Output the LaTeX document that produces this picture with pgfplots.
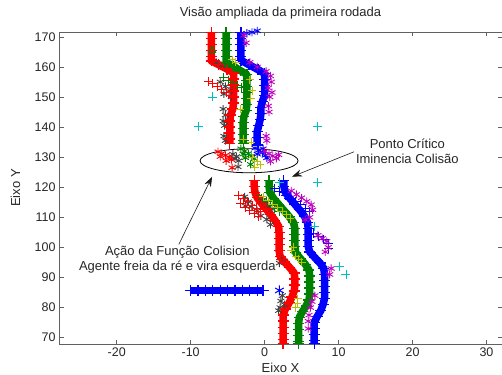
\documentclass[border=0pt]{standalone}
\usepackage{pgfplots}
\pgfplotsset{compat=1.18}
\usepackage{fontspec}
\setmainfont{Liberation Sans}
\usetikzlibrary{arrows.meta}
\definecolor{mred}{rgb}{1,0,0}
\definecolor{mgreen}{rgb}{0,0.5,0}
\definecolor{mblue}{rgb}{0,0,1}
\definecolor{mcyan}{rgb}{0,0.75,0.75}
\definecolor{mmag}{rgb}{0.75,0,0.75}
\definecolor{myel}{rgb}{0.75,0.75,0}
\definecolor{mgray}{rgb}{0.25,0.25,0.25}
\definecolor{axgray}{rgb}{0.38,0.38,0.38}
\newcommand\tickfont{\fontsize{12.5}{15}\selectfont}
\newcommand\anfont{\fontsize{13}{15}\selectfont}
\pgfplotsset{
  band/.style={line width=7.5pt, line join=round, mark=+, mark size=5.5pt, mark options={line width=1.3pt, solid}},
  pl/.style={only marks, mark=+, mark size=4.5pt, mark options={line width=1pt}},
  st/.style={only marks, mark=asterisk, mark size=4pt, mark options={line width=0.9pt}},
}
\begin{document}
\begin{tikzpicture}
\begin{axis}[name=ax, width=443pt, height=312pt, scale only axis,
  xmin=-27.8, xmax=32.1, ymin=67.9, ymax=171.6,
  xtick={-20,-10,...,30}, ytick={70,80,...,170},
  tick align=inside, major tick length=4.5pt,
  axis line style={color=axgray, line width=0.7pt},
  tick style={color=axgray, line width=0.6pt},
  clip=false,
  every tick label/.append style={font=\tickfont, text=black!85},
  /pgf/number format/assume math mode=true,
  title={Visão ampliada da primeira rodada},
  title style={font=\anfont, text=black!85, at={(axis description cs:0.5,1)}, anchor=base, yshift=9.5pt},
  xlabel={Eixo X},
  xlabel style={font=\anfont, text=black!85, at={(axis description cs:0.5,0)}, anchor=base, yshift=-28.5pt},
  ylabel={Eixo Y},
  ylabel style={font=\anfont, text=black!85, at={(axis description cs:-0.088,0.5)}, anchor=base},
]
% ---- dark gray (k) asterisks ----
\addplot[mgray, st] coordinates {
(-6.5,161.5) (-5.8,160.5) (-5.0,159.5) (-6.0,155) (-5.3,153.5) (-4.8,152) (-5.5,151) (-4.5,150)
(-5.6,146) (-5.3,144) (-5.6,142) (-5.4,140.5) (-5.5,137) (-5.3,135.5)
(-4.3,131) (-3.8,130.2) (-3.5,128.8) (-3.6,126.8) (-4.0,129.5)
(-2.7,116.8) (-2.2,115.2) (-1.8,113.6) (-2.6,113.8) (-1.0,112.2) (-0.5,110.5) (0.3,109.3) (0.8,107.6)
(2.2,96.5) (2.7,95.5) (2.0,94.8) (2.4,84) (2.2,82.2) (2.7,81) (2.1,80) (1.9,79)
(-0.3,115.5) (0.4,114) (1.0,112.8)
};
% ---- fans ----
\addplot[mred, pl] coordinates {
(-7.6,155.3) (-7.0,154.4) (-6.4,153.5) (-5.8,152.5) (-5.2,151.6) (-4.6,150.6)
(-3.5,117.3) (-2.9,116.2) (-2.3,115.1) (-1.7,114) (-1.1,113) (-0.6,112)
(-3.2,114.5) (-2.6,113.4) (-2.0,112.3) (-1.4,111.2) (-0.8,110.2)
(2.2,96) (2.9,94.8)
};
\addplot[mgreen, pl] coordinates {
(-5.5,156.5) (-4.9,155.6) (-4.3,154.7) (-3.7,153.8) (-3.1,153)
(-1.0,117.3) (-0.4,116.2) (0.2,115.1) (0.8,114) (1.4,113) (2.0,112)
};
\addplot[mblue, pl] coordinates {
(1.3,119.5) (2.0,118.5) (2.8,117.4) (3.5,116.3) (4.2,115.2) (4.9,114.1) (5.5,113) (6.1,112)
(6.6,104.5) (7.3,103.5) (8.0,102.5) (8.6,101.3) (8.7,99.5)
};
% ---- main bands ----
\addplot[mred, band] coordinates {
(-7.2,171.4) (-7.2,169.5) (-7.2,167.5) (-7.2,165.5) (-7.2,163.5) (-7.2,162) (-6.2,160.7) (-5.1,159.3) (-4.2,158)
(-4.2,156) (-4.2,154) (-4.2,152) (-4.2,150) (-4.2,148) (-4.3,146) (-4.6,144) (-4.7,142) (-4.7,140) (-4.7,138) (-4.7,136) (-4.7,134.5)
};
\addplot[mgreen, band] coordinates {
(-5.2,171.4) (-5.2,169.5) (-5.2,167.5) (-5.2,165.5) (-5.2,163.5) (-5.2,161.5) (-4.2,160.2) (-3.3,158.8) (-2.4,157.5)
(-2.4,155.5) (-2.4,153.5) (-2.4,151.5) (-2.4,149.5) (-2.4,147.5) (-2.5,145.5) (-2.8,143.5) (-2.9,141.5) (-2.9,139.5) (-2.9,137.5) (-2.9,135.5) (-2.9,134.5)
};
\addplot[mblue, band] coordinates {
(-3.2,171.4) (-3.2,169.5) (-3.2,167.5) (-3.2,165.5) (-3.2,163.5) (-3.2,162.2) (-2.1,160.7) (-0.9,159.1) (0.0,157.8)
(0.0,155.8) (0.0,153.8) (0.0,151.8) (0.0,150.5) (-0.3,148.5) (-0.5,146.5) (-0.5,144.5) (-0.6,142.5) (-0.8,140.5) (-1.0,138.5) (-1.0,136.5) (-1.0,134)
};
\addplot[mred, band] coordinates {
(-1.4,122.3) (-1.4,120.3) (-1.3,118.3) (-1.0,116.5) (-0.4,114.6) (0.2,112.8) (0.8,111) (1.4,109) (1.9,107) (1.95,105) (1.95,103) (1.95,101) (1.95,99)
(2.1,97) (2.7,95.2) (3.4,93.3) (4.0,91.5) (4.1,89.5) (4.1,87.5) (4.0,85.5) (3.7,83.5) (3.3,81.5) (2.8,79.5) (2.5,77.5) (2.5,75.5) (2.5,73.5) (2.5,71.5) (2.5,69.5) (2.5,68.1)
};
\addplot[mgreen, band] coordinates {
(0.6,122.3) (0.6,120.3) (0.7,118.3) (1.2,116.3) (1.9,114.3) (2.6,112.3) (3.3,110.3) (3.9,108.3) (4.1,106.3) (4.1,104.3) (4.1,102.3) (4.1,100.3) (4.2,98.3)
(4.8,96.4) (5.5,94.4) (6.0,92.5) (6.1,90.5) (6.1,88.5) (6.1,86.5) (6.1,84.5) (6.0,82.5) (5.6,80.5) (5.1,78.6) (4.7,76.8) (4.6,74.8) (4.6,72.8) (4.6,70.8) (4.6,68.8) (4.6,68.1)
};
\addplot[mblue, band] coordinates {
(2.6,122.3) (2.6,120.3) (2.8,118.3) (3.4,116.3) (4.1,114.3) (4.8,112.3) (5.4,110.3) (5.8,108.3) (5.9,106.3) (5.9,104.3) (5.9,102.3) (5.9,100.3) (6.1,98.5)
(6.8,96.6) (7.5,94.8) (8.0,93) (8.1,91) (8.1,89) (8.1,87) (8.1,85) (8.1,83) (7.9,81) (7.6,79) (7.1,77) (6.7,75) (6.7,73) (6.7,71) (6.7,69) (6.7,68.1)
};
% horizontal blue band
\addplot[mblue, band] coordinates {
(-10.0,85.7) (-9.0,85.7) (-8.0,85.7) (-7.0,85.7) (-6.0,85.7) (-5.0,85.7) (-4.0,85.7) (-3.0,85.7) (-2.0,85.7) (-1.0,85.7) (-0.2,85.7)
};
\addplot[mblue, only marks, mark=asterisk, mark size=5pt, mark options={line width=1pt}] coordinates {(2.0,85.7)};
% ---- ellipse region clusters ----
\addplot[mred, st] coordinates {
(-6.3,131.8) (-5.8,131.2) (-5.3,130.6) (-4.8,130) (-4.5,129.2) (-4.4,126.5) (-6.0,130.2) (-5.2,128.8)
};
\addplot[mgreen, st] coordinates {
(-3.2,132.8) (-2.7,132) (-2.2,131.2) (-1.8,130.3) (-1.4,129.5) (-2.6,129.8) (-1.9,127.6) (-2.9,131.0)
};
\addplot[mblue, st] coordinates {
(-1.3,133) (-0.8,132.3) (-0.3,131.5) (0.1,130.6) (0.3,129.8) (-1.0,131) (-0.2,132.8)
(-2.4,171.2) (-1.7,171.5) (-1.0,172.0)
};
% ---- yellow and magenta ----
\addplot[myel, pl, mark size=4pt] coordinates {
(-4.4,162.3) (-3.9,161.5) (-2.0,155.8) (-1.7,152) (-1.9,149.5) (-3.3,146) (-2.9,136) (-1.8,135)
(-1.6,129.8) (-1.0,128.5) (-0.6,127.4) (-1.3,126.6)
(-0.2,116.8) (0.5,115.5) (1.1,114.4) (1.8,113.2) (2.4,112) (3.0,110.8) (3.5,109.5)
(3.9,100) (3.6,99) (4.2,97) (4.6,96) (5.0,95) (4.5,83) (4.4,81.5) (4.2,80)
};
\addplot[mmag, st] coordinates {
(-2.8,170.5) (-2.5,168) (-2.0,161.5) (-1.0,160) (0.2,158.5) (0.8,157) (0.9,155) (0.5,153) (1.0,151.5) (0.7,150)
(0.5,147) (0.6,145) (0.2,137) (0.3,135.5)
(0.0,132) (0.6,131.2) (1.1,130.4) (1.6,129.6) (0.8,128.6) (1.9,130.8)
(3.6,118.8) (4.3,117.6) (5.0,116.5) (5.7,115.3) (6.3,114.2) (6.5,112.5) (6.1,110) (5.5,109.2)
(7.2,104) (7.8,103) (8.4,102) (8.6,100) (8.2,98.5)
(6.8,84) (6.4,82) (6.2,80) (6.0,77.5) (5.9,75.5) (5.9,73) (8.8,91) (9.0,93)
};
% ---- cyan isolated ----
\addplot[mcyan, only marks, mark=+, mark size=4.5pt, mark options={line width=0.8pt}] coordinates {
(-7.1,150.0) (-9.0,140.2) (7.1,140.2) (7.1,121.6) (2.0,121.6) (6.7,107) (10.1,93.8) (11.0,91.0)
};
\addplot[mgreen, only marks, mark=triangle, mark size=4pt, mark options={line width=1pt}] coordinates {(-7.1,165.5)};
% ---- annotations ----
\draw[black, line width=0.8pt] (axis cs:-2.1,128.8) ellipse [x radius=49pt, y radius=12pt];
\node[font=\anfont, align=center, text=black!85] at (axis cs:19.3,131.9) {Ponto Crítico\\Iminencia Colisão};
\draw[-{Stealth[length=10pt,width=7pt]}, black!90, line width=0.6pt] (axis cs:12.1,131.8) -- (axis cs:3.7,123.5);
\node[font=\anfont, align=center, text=black!85] at (axis cs:-11.8,95.9) {Ação da Função Colision\\Agente freia da ré e vira esquerda};
\draw[-{Stealth[length=10pt,width=7pt]}, black!90, line width=0.6pt] (axis cs:-11.6,101.0) -- (axis cs:-7.1,123.5);
\end{axis}
\pgfresetboundingbox
\path ([xshift=-59pt,yshift=-30pt]ax.south west) rectangle ([yshift=32pt]ax.north east);
\end{tikzpicture}
\end{document}
